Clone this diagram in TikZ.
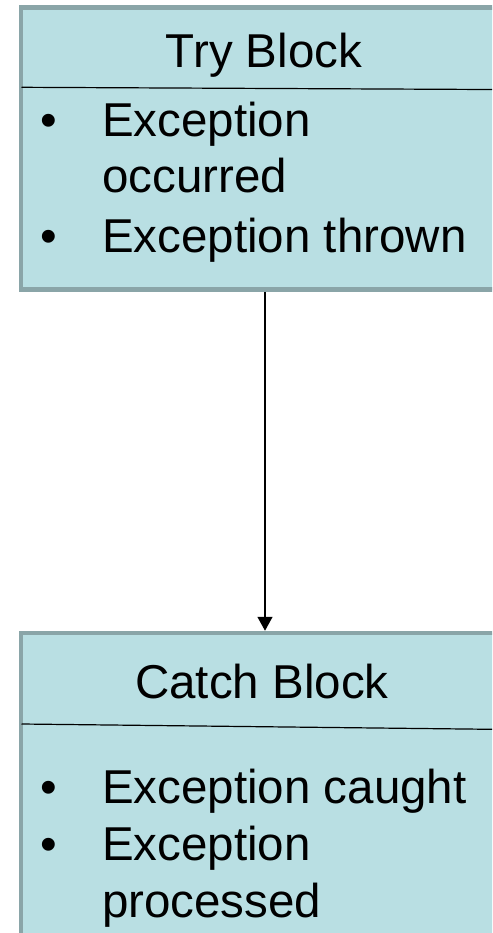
\documentclass[tikz,border=0pt]{standalone}
\usepackage{fontspec}
\setmainfont{Liberation Sans}
\usetikzlibrary{arrows.meta}

\definecolor{boxfill}{HTML}{B9DFE3}
\definecolor{boxedge}{HTML}{8AA5A8}

\tikzset{
  blockbox/.style={draw=boxedge, fill=boxfill, line width=4.5pt, inner sep=0pt, minimum width=488pt},
  blocktitle/.style={anchor=base, inner sep=0pt, font=\fontsize{47.5}{57}\selectfont},
  itemline/.style={anchor=base west, inner sep=0pt, font=\fontsize{47.5}{57}\selectfont},
  bullet/.style={anchor=base, inner sep=0pt, font=\fontsize{47.5}{57}\selectfont},
}

\begin{document}
\begin{tikzpicture}[x=1pt, y=-1pt]
  \clip (0,0) rectangle (492,933);
  \fill[white] (0,0) rectangle (492,933);

  % the two blocks
  \node[blockbox, minimum height=282pt] (try) at (265,148.5) {};
  \node[blockbox, minimum height=330pt] (catch) at (265,798) {};

  \draw[line width=1.2pt] (21.5,87.3) -- (509,89.6);
  \draw[line width=1.2pt] (21.5,724) -- (509,729.5);

  % try block text
  \node[blocktitle] (trytitle) at (264,68) {Try Block};
  \node[bullet] (trybulA) at (49,137) {•};
  \node[itemline] (tryA) at (102,137) {Exception};
  \node[itemline] (tryB) at (102,193) {occurred};
  \node[bullet] (trybulB) at (49,252) {•};
  \node[itemline] (tryC) at (102,252) {Exception thrown};

  % catch block text
  \node[blocktitle] (catchtitle) at (262,698) {Catch Block};
  \node[bullet] (catchbulA) at (49,803) {•};
  \node[itemline] (catchA) at (102,803) {Exception caught};
  \node[bullet] (catchbulB) at (49,860) {•};
  \node[itemline] (catchB) at (102,860) {Exception};
  \node[itemline] (catchC) at (102,917) {processed};

  \draw[line width=1.5pt, -{Triangle[width=15pt,length=14pt]}] (try.south) -- (catch.north);
\end{tikzpicture}
\end{document}
